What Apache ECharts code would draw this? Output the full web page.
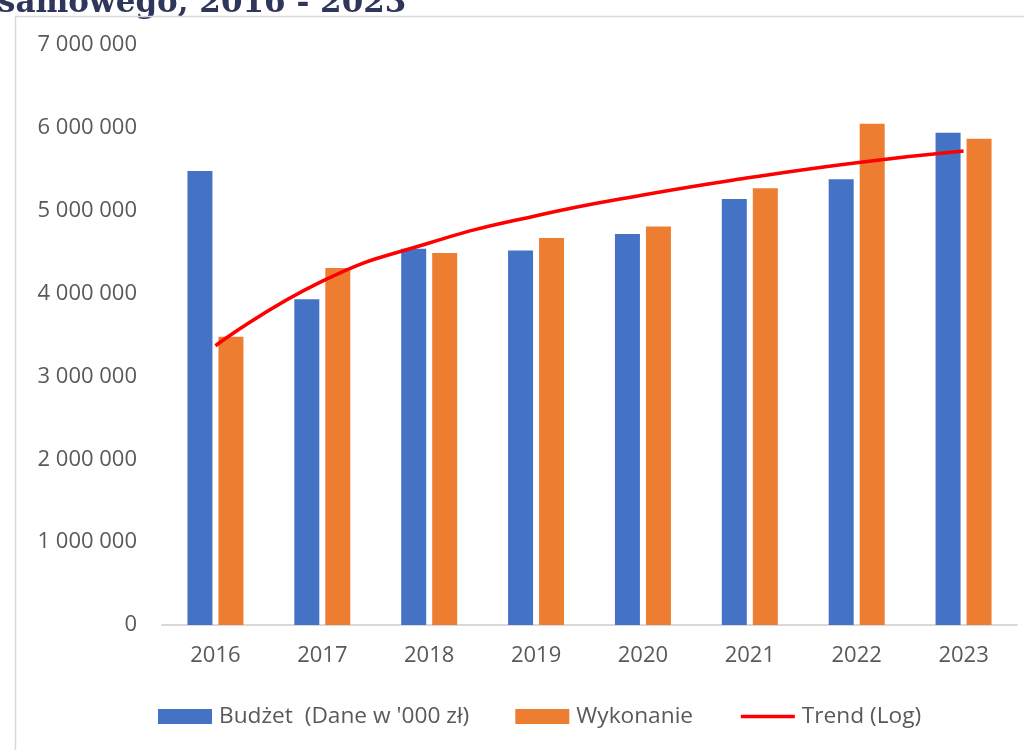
<!DOCTYPE html>
<html>
<head>
<meta charset="utf-8">
<title>Budżet</title>
<script src="https://cdn.jsdelivr.net/npm/echarts@6/dist/echarts.min.js"></script>
<style>
  html, body { margin: 0; padding: 0; background: #fff; }
  #chart { width: 1024px; height: 750px; }
</style>
</head>
<body>
<div id="chart"></div>
<script>
  // lata
  const years = ['2016', '2017', '2018', '2019', '2020', '2021', '2022', '2023']
  // budżet (dane w '000 zł)
  const budzet = [5480000, 3930000, 4540000, 4520000, 4720000, 5140000, 5380000, 5940000]
  // wykonanie
  const wykonanie = [3480000, 4310000, 4490000, 4670000, 4810000, 5270000, 6050000, 5870000]
  // linia trendu (log)
  const trend = [3370000, 4150000, 4610000, 4940000, 5190000, 5400000, 5580000, 5720000]

  const names = ["Budżet  (Dane w '000 zł)", 'Wykonanie', 'Trend (Log)']
  const font = '"Open Sans", "Noto Sans", sans-serif'
  const textGray = '#595959'

  const chart = echarts.init(document.getElementById('chart'))
  chart.setOption({
    animation: false,
    textStyle: { fontFamily: font },
    graphic: [
      {
        // obcięty tytuł nad ramką
        type: 'text',
        left: -2,
        top: -12,
        style: {
          text: 'samowego, 2016 - 2023',
          font: 'bold 31px "DejaVu Serif", "Liberation Serif", serif',
          fill: '#2f365c'
        }
      },
      {
        // ramka wykresu
        type: 'polyline',
        shape: { points: [[15.5, 760], [15.5, 16.5], [1040, 16.5]] },
        style: { stroke: '#d9d9d9', lineWidth: 1.5, fill: null }
      }
    ],
    grid: {
      left: 162,
      right: 7,
      top: 45,
      bottom: 125
    },
    legend: {
      left: 153,
      top: 700,
      itemWidth: 54,
      itemHeight: 15,
      itemGap: 46,
      textStyle: { fontFamily: font, fontSize: 22.7, color: textGray, padding: [0, 0, 0, 2] },
      data: [
        { name: names[0], icon: 'rect' },
        { name: names[1], icon: 'rect' },
        { name: names[2], itemStyle: { opacity: 0 }, lineStyle: { width: 3.5, color: '#ff0000' } }
      ]
    },
    xAxis: {
      type: 'category',
      data: years,
      axisTick: { show: false },
      axisLine: { lineStyle: { color: '#d9d9d9', width: 2 } },
      axisLabel: { fontFamily: font, fontSize: 22, color: textGray, margin: 20 }
    },
    yAxis: {
      type: 'value',
      min: 0,
      max: 7000000,
      interval: 1000000,
      axisLine: { show: false },
      axisTick: { show: false },
      splitLine: { show: false },
      axisLabel: {
        fontFamily: font,
        fontSize: 22,
        color: textGray,
        margin: 25,
        formatter: function (v) {
          return String(v).replace(/\B(?=(\d{3})+(?!\d))/g, ' ')
        }
      }
    },
    series: [
      {
        name: names[0],
        type: 'bar',
        data: budzet,
        barWidth: 25,
        barGap: '24%',
        itemStyle: { color: '#4472c4' }
      },
      {
        name: names[1],
        type: 'bar',
        data: wykonanie,
        barWidth: 25,
        itemStyle: { color: '#ed7d31' }
      },
      {
        name: names[2],
        type: 'line',
        data: trend,
        smooth: true,
        symbol: 'none',
        lineStyle: { color: '#ff0000', width: 3.5 },
        itemStyle: { color: '#ff0000' },
        z: 5
      }
    ]
  })
</script>
</body>
</html>
